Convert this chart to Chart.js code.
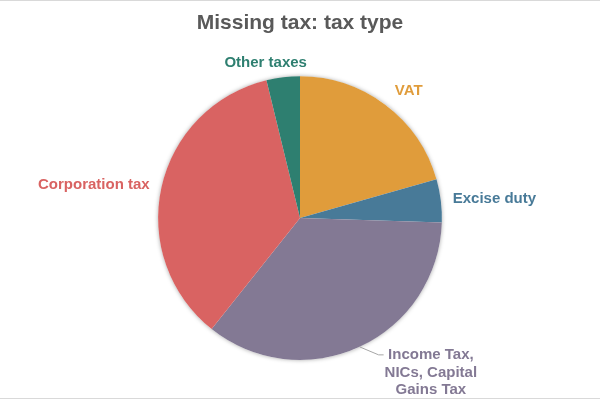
<!DOCTYPE html>
<html>
<head>
<meta charset="utf-8">
<script src="https://cdn.jsdelivr.net/npm/chart.js@4/dist/chart.umd.min.js"></script>
<style>
    html, body { margin: 0; padding: 0; background: #fff; }
    #wrap {
        width: 600px;
        height: 397px;
        border-top: 1px solid #d9d9d9;
        border-bottom: 1px solid #d9d9d9;
    }
</style>
</head>
<body>
<div id="wrap"><canvas id="tax-chart" width="600" height="397"></canvas></div>
<script>
// Chart data, slices clockwise from 12 o'clock
const taxTypes = ['VAT', 'Excise duty', 'Income Tax, NICs, Capital Gains Tax', 'Corporation tax', 'Other taxes'];
const taxShares = [20.6, 4.9, 35.2, 35.5, 3.8];
const sliceColours = ['#e09c3b', '#487a98', '#837994', '#d96362', '#2e7f70'];
// Label text per slice (wrapped the way the picture shows it)
const labelLines = [
    ['VAT'],
    ['Excise duty'],
    ['Income Tax,', 'NICs, Capital', 'Gains Tax'],
    ['Corporation tax'],
    ['Other taxes']
];

const FONT = '"Liberation Sans", Arial, sans-serif';

// Soft shadow behind the whole pie
const pieShadow = {
    id: 'pieShadow',
    beforeDatasetsDraw(chart) {
        const arc = chart.getDatasetMeta(0).data[0];
        if (!arc) return;
        const ctx = chart.ctx;
        ctx.save();
        ctx.shadowColor = 'rgba(0, 0, 0, 0.35)';
        ctx.shadowBlur = 4;
        ctx.fillStyle = '#ffffff';
        ctx.beginPath();
        ctx.arc(arc.x, arc.y, arc.outerRadius, 0, Math.PI * 2);
        ctx.fill();
        ctx.restore();
    }
};

// Outside-end labels, placed from each arc's own angles
const outsideLabels = {
    id: 'outsideLabels',
    afterDatasetsDraw(chart) {
        const ctx = chart.ctx;
        const meta = chart.getDatasetMeta(0);
        // small hand nudges so labels sit where Excel put them
        const nudge = [[2, 0], [0, 0], [0, 0], [0, 0], [-16, 2]];
        ctx.save();
        ctx.font = 'bold 15px ' + FONT;
        meta.data.forEach((arc, i) => {
            const mid = (arc.startAngle + arc.endAngle) / 2;
            const cos = Math.cos(mid);
            const sin = Math.sin(mid);
            const r = arc.outerRadius;
            const lines = labelLines[i];
            ctx.fillStyle = sliceColours[i];
            if (lines.length > 1) {
                // leader line for the long label
                const x0 = arc.x + cos * r;
                const y0 = arc.y + sin * r;
                const x1 = x0 + 19;
                const y1 = y0 + 8;
                ctx.strokeStyle = '#a6a6a6';
                ctx.lineWidth = 1;
                ctx.beginPath();
                ctx.moveTo(x0, y0);
                ctx.lineTo(x1, y1);
                ctx.lineTo(x1 + 5, y1);
                ctx.stroke();
                const w = Math.max(...lines.map(l => ctx.measureText(l).width));
                const cx = x1 + 6 + w / 2;
                ctx.textAlign = 'center';
                ctx.textBaseline = 'middle';
                lines.forEach((l, k) => ctx.fillText(l, cx, y1 + k * 17.5));
                return;
            }
            const x = arc.x + cos * (r + 12) + nudge[i][0];
            const y = arc.y + sin * (r + 12) + nudge[i][1];
            if (Math.abs(cos) < 0.3) {
                ctx.textAlign = 'center';
                ctx.textBaseline = 'alphabetic';
            } else {
                ctx.textAlign = cos > 0 ? 'left' : 'right';
                ctx.textBaseline = sin < -0.5 ? 'alphabetic' : 'middle';
            }
            ctx.fillText(lines[0], x, y);
        });
        ctx.restore();
    }
};

const ctx = document.getElementById('tax-chart').getContext('2d');
const taxChart = new Chart(ctx, {
    type: 'pie',
    data: {
        labels: taxTypes,
        datasets: [{
            data: taxShares,
            backgroundColor: sliceColours,
            borderWidth: 0
        }]
    },
    options: {
        responsive: false,
        animation: false,
        layout: {
            padding: { top: 0, bottom: 38, left: 0, right: 0 }
        },
        plugins: {
            legend: { display: false },
            tooltip: { enabled: false },
            title: {
                display: true,
                text: 'Missing tax: tax type',
                color: '#595959',
                font: { family: FONT, size: 21, weight: 'bold' },
                padding: { top: 10, bottom: 40 }
            }
        }
    },
    plugins: [pieShadow, outsideLabels]
});
</script>
</body>
</html>
